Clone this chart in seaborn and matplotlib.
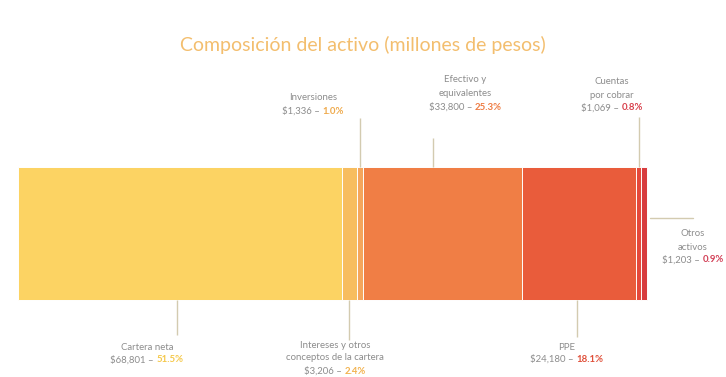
import matplotlib
matplotlib.use("Agg")
import matplotlib.pyplot as plt
import seaborn as sns
import numpy as np
import pandas as pd

# Composición del activo, millones de pesos
categorias = ["Cartera neta", "Intereses y otros conceptos de la cartera", "Inversiones",
              "Efectivo y equivalentes", "PPE", "Cuentas por cobrar", "Otros activos"]
etiquetas = ["Cartera neta", "Intereses y otros\nconceptos de la cartera", "Inversiones",
             "Efectivo y\nequivalentes", "PPE", "Cuentas\npor cobrar", "Otros\nactivos"]
montos = [68801, 3206, 1336, 33800, 24180, 1069, 1203]
porcentajes = [51.5, 2.4, 1.0, 25.3, 18.1, 0.8, 0.9]
colores = ["#FCD363", "#F7BD5F", "#F4A55C", "#F07E45", "#E95C3B", "#E4493B", "#D83D3F"]
colores_pct = ["#F5C84A", "#F2B24E", "#EFAA4C", "#EE7B42", "#E0503A", "#D8404C", "#D23E55"]

df = pd.DataFrame({"categoria": categorias, "monto": montos})
df["acumulado"] = df["monto"].cumsum()
df["inicio"] = df["acumulado"] - df["monto"]
total = df["monto"].sum()

W, H = 726, 377
sns.set_theme(style="white")
plt.rcParams["font.family"] = ["Lato", "DejaVu Sans"]

fig = plt.figure(figsize=(W / 100, H / 100), dpi=100)
ax = fig.add_axes([0, 0, 1, 1])

# stacked bar: cumulative bars drawn from the longest to the shortest
for i in reversed(range(len(df))):
    sns.barplot(x=[df["acumulado"][i]], y=[0], orient="h", color=colores[i],
                saturation=1, width=1.0, edgecolor="white", linewidth=0.7, ax=ax)

# pixel-layout helpers
BAR_L, BAR_W, BAR_CY, BAR_H = 18, 629, 233.5, 133
def xd(px):
    return (px - BAR_L) / BAR_W * total
def yd(py):
    return (py - BAR_CY) / BAR_H

ax.set_xlim(xd(0), xd(W))
ax.set_ylim(yd(H), yd(0))
ax.axis("off")

fig.text(0.5, 1 - 45 / H, "Composición del activo (millones de pesos)",
         ha="center", va="center", fontsize=14, color="#F3BE6E")

gris = "#8C8C8C"
linea = "#D3CBB0"
fs = 6.9

def seg_x(i, frac=0.5):
    return df["inicio"][i] + frac * df["monto"][i]

# label layout: text centre x (px), line y's (px), leader spec
layout = {
    0: dict(cx=147, ys=[348, 360], lead=("v", 0.49, 300, 335)),
    1: dict(cx=335, ys=[346, 358, 371], lead=("v", 0.5, 300, 340)),
    2: dict(cx=313, ys=[97, 111], lead=("v", 0.55, 118, 167)),
    3: dict(cx=465, ys=[80, 93, 107], lead=("v", 0.44, 138, 167)),
    4: dict(cx=567, ys=[347, 359], lead=("v", 0.48, 300, 337)),
    5: dict(cx=612, ys=[82, 95, 108], lead=("v", 0.5, 117, 167)),
    6: dict(cx=693, ys=[233, 247, 260], lead=("h", 218, 650, 693)),
}

pares = []
for i, spec in layout.items():
    lineas = etiquetas[i].split("\n")
    for txt, y in zip(lineas, spec["ys"][:-1]):
        ax.text(xd(spec["cx"]), yd(y), txt, ha="center", va="center",
                fontsize=fs, color=gris)
    yv = yd(spec["ys"][-1])
    t1 = ax.text(xd(spec["cx"]), yv, f"${montos[i]:,} – ", ha="right", va="center",
                 fontsize=fs, color=gris)
    t2 = ax.text(xd(spec["cx"]), yv, f"{porcentajes[i]:.1f}%", ha="left", va="center",
                 fontsize=fs, color=colores_pct[i], fontweight="bold")
    pares.append((t1, t2, spec["cx"]))
    ld = spec["lead"]
    if ld[0] == "v":
        x = seg_x(i, ld[1])
        ax.plot([x, x], [yd(ld[2]), yd(ld[3])], color=linea, lw=1, solid_capstyle="butt")
    else:
        ax.plot([xd(ld[2]), xd(ld[3])], [yd(ld[1]), yd(ld[1])], color=linea, lw=1)

# centre each "amount – percent" line as a whole
fig.canvas.draw()
r = fig.canvas.get_renderer()
for t1, t2, cx in pares:
    w1 = t1.get_window_extent(r).width
    w2 = t2.get_window_extent(r).width
    split = cx - (w1 + w2) / 2 + w1
    t1.set_x(xd(split))
    t2.set_x(xd(split))

fig.savefig("out.png", dpi=100, facecolor="white")
